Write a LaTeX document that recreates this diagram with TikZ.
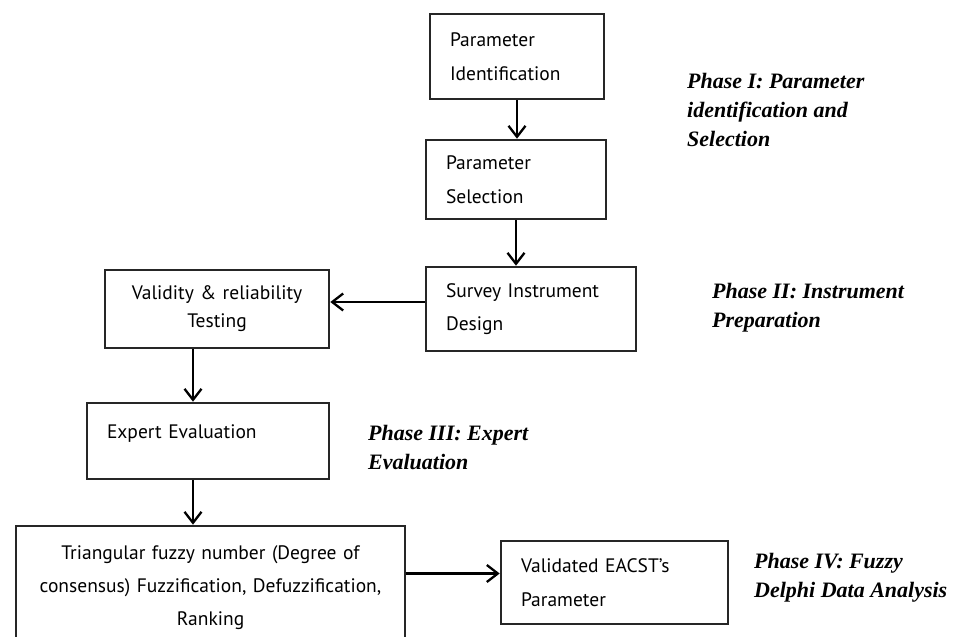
\documentclass[tikz,border=0pt]{standalone}
\usepackage{fontspec}
\setmainfont{PT Sans}
\newfontfamily\phasefont{Liberation Serif}
\usetikzlibrary{arrows.meta}

\begin{document}
\begin{tikzpicture}[x=1pt,y=-1pt,-{Straight Barb[length=11pt,width=17pt]},line width=2.3pt]
   \useasboundingbox (0,0) rectangle (953,637);
   \tikzstyle{box}=[draw=black!85, line width=2.6pt, rectangle, inner xsep=20pt, align=left, font=\fontsize{19.5}{33.5}\selectfont]
   \tikzstyle{phase}=[anchor=west, inner sep=0pt, align=left, font=\phasefont\bfseries\itshape\fontsize{22}{29}\selectfont]
   \node[box, text width=134pt, minimum height=85pt] (ident) at (517,56.5) {Parameter\\Identification};
   \node[box, text width=140pt, minimum height=79pt] (select) at (516,179.5) {Parameter\\Selection};
   \node[box, text width=170pt, minimum height=84pt] (survey) at (531,309) {Survey Instrument\\Design};
   \node[box, text width=184pt, minimum height=78pt, align=center, font=\fontsize{19.5}{28}\selectfont] (valid) at (217,309) {Validity \& reliability\\Testing};
   \node[box, text width=202pt, minimum height=76pt] (expert) at (208,441) {Expert Evaluation\\[-15pt]\mbox{}};
   \node[box, text width=349pt, minimum height=124pt, align=center, font=\fontsize{19.5}{33}\selectfont] (fuzzy) at (210.5,588) {Triangular fuzzy number (Degree of\\consensus) Fuzzification, Defuzzification,\\Ranking};
   \node[box, text width=187pt, minimum height=83pt] (result) at (614.5,582.5) {Validated EACST's\\Parameter};
   % phases
   \node[phase] (p1) at (686,110) {Phase I: Parameter\\identification and\\Selection};
   \node[phase] (p2) at (711,308) {Phase II: Instrument\\Preparation};
   \node[phase] (p3) at (367,447) {Phase III: Expert\\Evaluation};
   \node[phase] (p4) at (753,578) {Phase IV: Fuzzy\\Delphi Data Analysis};
   % flow
   \draw (ident.south) -- (ident.south |- select.north);
   \draw (select.south) -- (select.south |- survey.north);
   \draw ([yshift=7pt]survey.west) -- ([yshift=7pt]survey.west -| valid.east);
   \draw ([xshift=-24pt]valid.south) -- ([xshift=-24pt]valid.south |- expert.north);
   \draw ([xshift=-15pt]expert.south) -- ([xshift=-15pt]expert.south |- fuzzy.north);
   \draw ([yshift=9pt]result.west -| fuzzy.east) -- ([yshift=9pt]result.west);
\end{tikzpicture}
\end{document}
